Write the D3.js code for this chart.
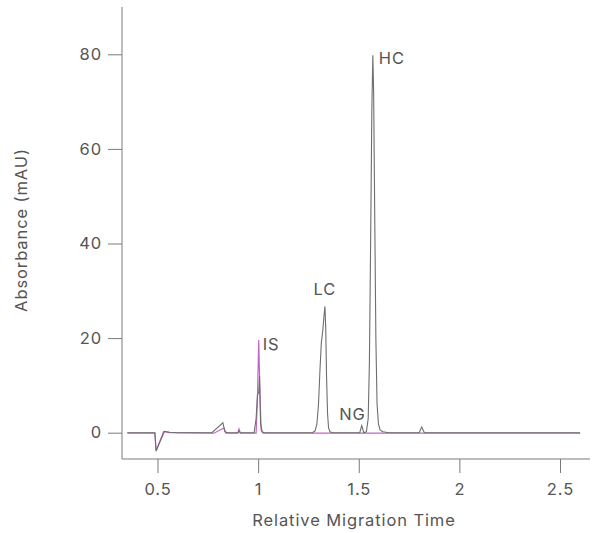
<!DOCTYPE html>
<html>
<head>
    <meta charset="utf-8" />
    <script src="https://d3js.org/d3.v7.min.js"></script>
    <style>
      body { margin: 0; background: #fff; }
      text { font-family: Inter, "Noto Sans", sans-serif; letter-spacing: 0.9px; }
    </style>
</head>
<body>
<script type="text/javascript">
    // migration time / absorbance pairs
    var sampleTime = [0.35, 0.487, 0.493, 0.535, 0.56, 0.6, 0.77, 0.825, 0.835, 0.85, 0.9, 0.905, 0.91,
                      0.98, 0.99, 0.997, 1.003, 1.007, 1.012, 1.02, 1.03,
                      1.27, 1.283, 1.292, 1.3, 1.307, 1.314, 1.321, 1.327, 1.332, 1.336, 1.34, 1.345, 1.35, 1.357, 1.37,
                      1.505, 1.515, 1.525, 1.538, 1.547, 1.553, 1.559, 1.565, 1.57, 1.574, 1.579, 1.585, 1.591, 1.598, 1.606, 1.62, 1.65,
                      1.8, 1.813, 1.826, 2.6];
    var sampleAbs  = [0, 0, -3.8, 0.3, 0.1, 0, 0, 2.1, 0.2, 0, 0, 0.4, 0,
                      0, 3, 8, 8.5, 12, 2, 0.2, 0,
                      0, 0.4, 1.8, 6, 13, 19, 21.5, 24.5, 26.7, 22, 12, 4, 1, 0.2, 0,
                      0, 1.5, 0, 0.2, 3, 15, 40, 68, 79.8, 72, 48, 20, 6, 1.8, 0.6, 0.2, 0,
                      0, 1.2, 0, 0];

    var blankTime = [0.35, 0.487, 0.493, 0.53, 0.56, 0.78, 0.83, 0.84, 0.898, 0.905, 0.912,
                     0.99, 0.997, 1.003, 1.008, 1.015, 1.025, 2.6];
    var blankAbs  = [-0.1, -0.1, -3.9, 0.2, 0, -0.1, 1.0, -0.1, -0.1, 0.8, -0.1,
                     -0.1, 8, 19.6, 10, 0.5, -0.1, -0.1];

    var peakNames = ["IS", "LC", "NG", "HC"];
    var peakTimes = [1.003, 1.332, 1.52, 1.57];
    var peakAbs   = [17.5, 27.5, 2.5, 79.8];

    var xTicks = [0.5, 1, 1.5, 2, 2.5];
    var yTicks = [0, 20, 40, 60, 80];

    var w = 592, h = 533;
    var axisColor = "#7a7a7a", textColor = "#555";
    var fontSize = "16.5px";

    var svg = d3.select("body").append("svg")
                .attr("width", w)
                .attr("height", h);

    var x = d3.scaleLinear().domain([0.5, 2.5]).range([157.5, 560]);
    var y = d3.scaleLinear().domain([0, 80]).range([432.7, 54.3]);

    // axis lines
    svg.append("line")
       .attr("x1", 122).attr("x2", 122)
       .attr("y1", 7).attr("y2", 459)
       .attr("stroke", axisColor);
    svg.append("line")
       .attr("x1", 122).attr("x2", 590)
       .attr("y1", 459).attr("y2", 459)
       .attr("stroke", axisColor);

    var yAxis = svg.append("g")
       .attr("transform", "translate(122,0)")
       .call(d3.axisLeft(y).tickValues(yTicks).tickSize(14).tickPadding(6).tickSizeOuter(0));
    var xAxis = svg.append("g")
       .attr("transform", "translate(0,459)")
       .call(d3.axisBottom(x).tickValues(xTicks).tickFormat(d3.format("~g"))
                .tickSize(14).tickPadding(10).tickSizeOuter(0));

    [xAxis, yAxis].forEach(function(a){
        a.select(".domain").remove();
        a.selectAll("line").attr("stroke", axisColor);
        a.selectAll("text").attr("fill", textColor).style("font-size", fontSize)
         .style("font-family", "Inter, 'Noto Sans', sans-serif");
    });

    svg.append("text")
       .attr("x", 354).attr("y", 526)
       .attr("text-anchor", "middle")
       .attr("fill", textColor)
       .style("font-size", fontSize)
       .text("Relative Migration Time");

    svg.append("text")
       .attr("transform", "translate(27,230) rotate(-90)")
       .attr("text-anchor", "middle")
       .attr("fill", textColor)
       .style("font-size", fontSize)
       .text("Absorbance (mAU)");

    var line = d3.line()
                 .x(function(d){ return x(d[0]); })
                 .y(function(d){ return y(d[1]); });

    var blank = blankTime.map(function(t, i){ return [t, blankAbs[i]]; });
    var sample = sampleTime.map(function(t, i){ return [t, sampleAbs[i]]; });

    svg.append("path")
       .attr("d", line(blank))
       .attr("fill", "none")
       .attr("stroke", "#c066c8")
       .attr("stroke-width", 1.2);

    svg.append("path")
       .attr("d", line(sample))
       .attr("fill", "none")
       .attr("stroke", "#6e6e6e")
       .attr("stroke-width", 1.1);

    // peak labels
    var anchors = ["start", "middle", "end", "start"];
    var dx = [4, 0, 3, 6];
    var dy = [0, -8, -1, 9];
    svg.selectAll("text.peak")
       .data(peakNames)
       .enter()
       .append("text")
       .attr("class", "peak")
       .attr("x", function(d, i){ return x(peakTimes[i]) + dx[i]; })
       .attr("y", function(d, i){ return y(peakAbs[i]) + dy[i]; })
       .attr("text-anchor", function(d, i){ return anchors[i]; })
       .attr("fill", textColor)
       .style("font-size", fontSize)
       .text(function(d){ return d; });
</script>
</body>
</html>
